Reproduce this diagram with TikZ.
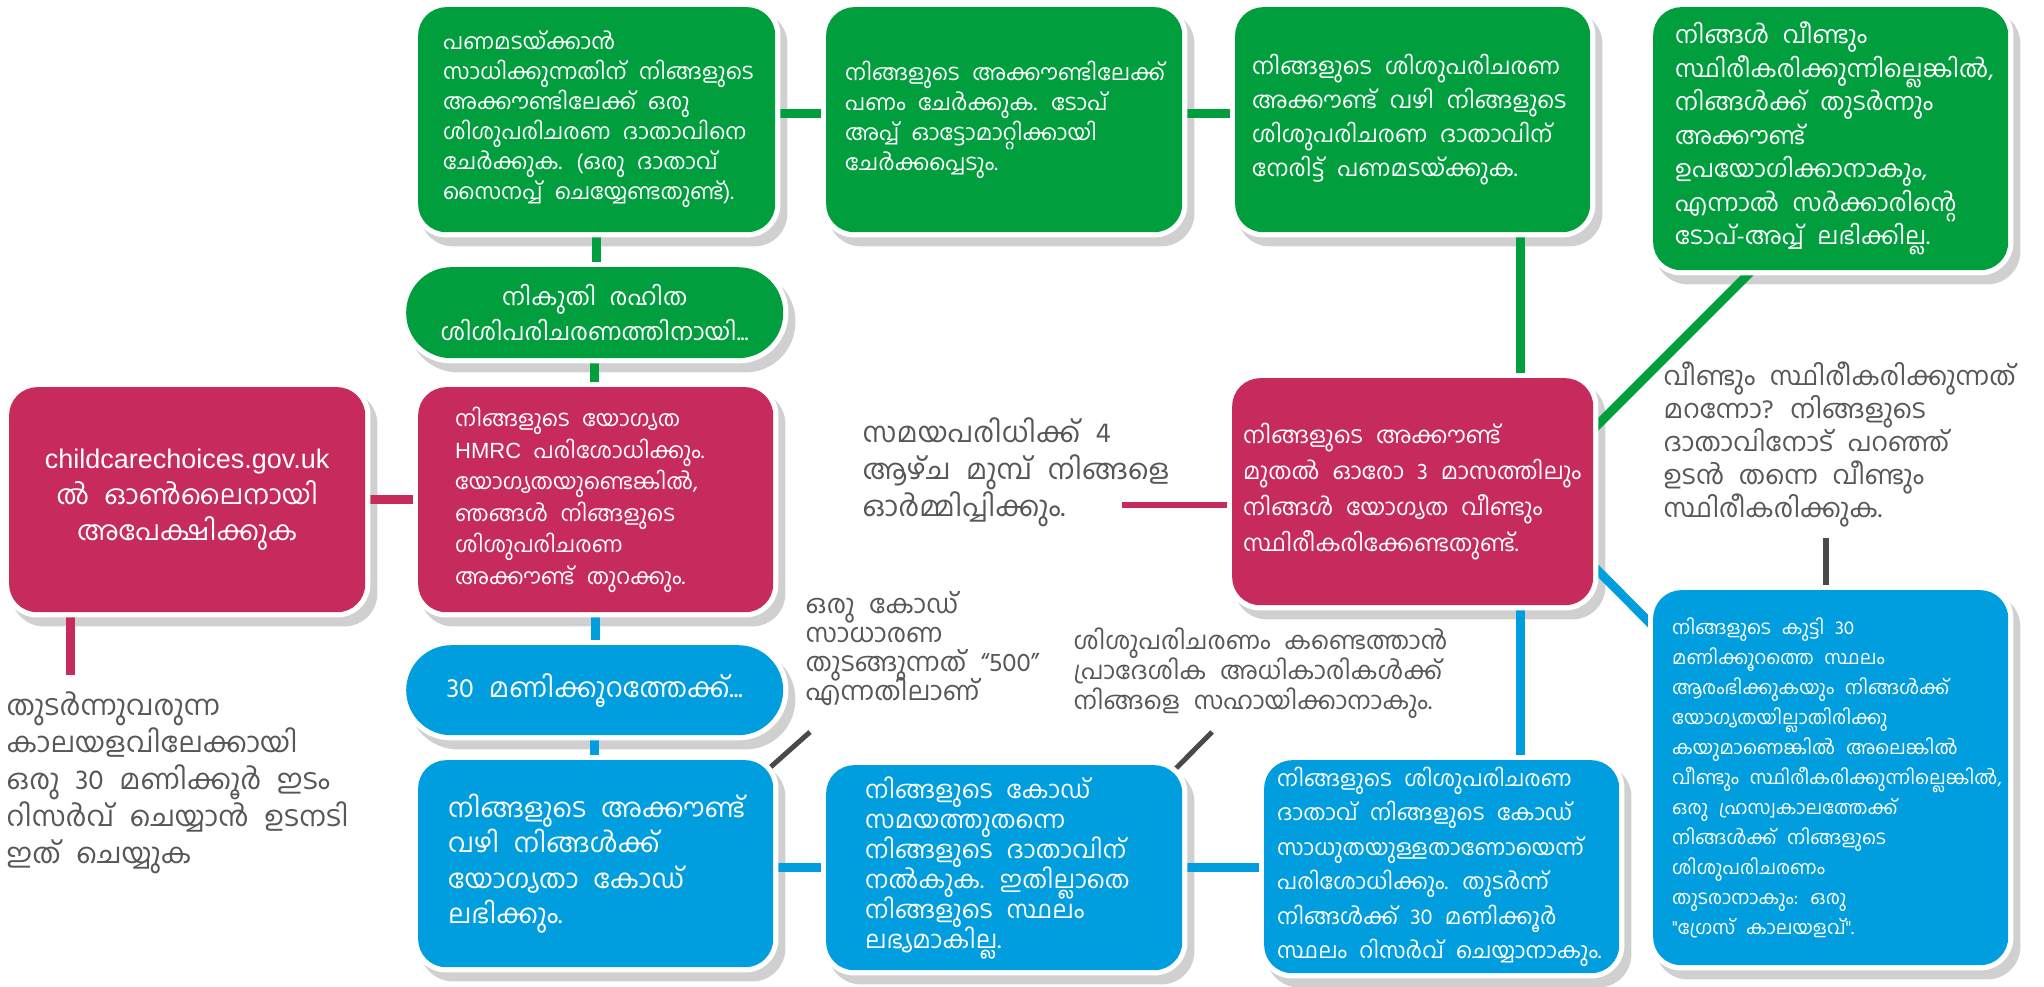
\documentclass[tikz,border=0pt]{standalone}
\usepackage{fontspec}
\newfontfamily\ml[Script=Malayalam,WordSpace=2.3]{Hind Kochi}
\newfontfamily\lat{Liberation Sans}
\usetikzlibrary{calc}
\definecolor{mgreen}{RGB}{0,158,61}
\definecolor{mpink}{RGB}{199,43,91}
\definecolor{mblue}{RGB}{0,157,223}
\definecolor{tgrey}{RGB}{87,87,87}
\definecolor{lgrey}{RGB}{74,74,74}
\definecolor{shadc}{RGB}{208,208,208}
\pgfdeclarelayer{shad}
\pgfdeclarelayer{conn}
\pgfdeclarelayer{marg}
\pgfsetlayers{shad,conn,marg,main}
% fixed-width block of explicit lines, left aligned, never re-wrapped
\newcommand\tx[2]{\makebox[#1][l]{\vbox{\hsize=1500pt\parindent=0pt\lineskiplimit=-100pt
  \rightskip=0pt plus 1fil\parfillskip=0pt\let\\\par #2\par}}}
\newcommand\cardback[2]{%
  \begin{pgfonlayer}{shad}
    \fill[shadc, rounded corners=#2+5] ($(#1.north west)+(2,4)$) rectangle ($(#1.south east)+(12,14)$);
  \end{pgfonlayer}
  \begin{pgfonlayer}{marg}
    \fill[white, rounded corners=#2+5] ($(#1.north west)+(-5,-5)$) rectangle ($(#1.south east)+(5,5)$);
  \end{pgfonlayer}}
\begin{document}
\begin{tikzpicture}[x=1pt,y=-1pt,
  card/.style={rounded corners=28pt, text=white, anchor=north west, inner ysep=0pt},
  gcard/.style={card, fill=mgreen},
  pcard/.style={card, fill=mpink},
  bcard/.style={card, fill=mblue},
  pill/.style={rounded corners=45pt, text=white, align=center, anchor=north west, inner sep=0pt},
  note/.style={text=tgrey, anchor=north west, inner sep=0pt},
  glink/.style={draw=mgreen, line width=9pt},
  plink/.style={draw=mpink, line width=9pt},
  blink/.style={draw=mblue, line width=9pt},
  greylink/.style={draw=lgrey, line width=5pt},
]
\useasboundingbox (0,0) rectangle (2044,987);

% top row (green)
\node[gcard, minimum width=357pt, minimum height=225pt, inner xsep=25pt,
  font=\ml\fontsize{22}{30}\selectfont] (b1) at (418,7)
 {\tx{307pt}{പണമടയ്ക്കാൻ\\സാധിക്കുന്നതിന് നിങ്ങളുടെ\\അക്കൗണ്ടിലേക്ക് ഒരു\\ശിശുപരിചരണ ദാതാവിനെ\\ചേർക്കുക. (ഒരു ദാതാവ്\\സൈനപ്പ് ചെയ്യേണ്ടതുണ്ട്).}};
\node[gcard, minimum width=356pt, minimum height=225pt, inner xsep=19pt,
  font=\ml\fontsize{22}{30}\selectfont] (b2) at (826,7)
 {\tx{318pt}{നിങ്ങളുടെ അക്കൗണ്ടിലേക്ക്\\പണം ചേർക്കുക. ടോപ്\\അപ്പ് ഓട്ടോമാറ്റിക്കായി\\ചേർക്കപ്പെടും.}};
\node[gcard, minimum width=355pt, minimum height=225pt, inner xsep=17pt,
  font=\ml\fontsize{23}{34}\selectfont] (b3) at (1235,7)
 {\tx{321pt}{നിങ്ങളുടെ ശിശുപരിചരണ\\അക്കൗണ്ട് വഴി നിങ്ങളുടെ\\ശിശുപരിചരണ ദാതാവിന്\\നേരിട്ട് പണമടയ്ക്കുക.}};
\node[gcard, minimum width=355pt, minimum height=263pt, inner xsep=22pt,
  font=\ml\fontsize{24}{33.5}\selectfont] (b4) at (1653,7)
 {\tx{311pt}{നിങ്ങൾ വീണ്ടും\\സ്ഥിരീകരിക്കുന്നില്ലെങ്കിൽ,\\നിങ്ങൾക്ക് തുടർന്നും\\അക്കൗണ്ട്\\ഉപയോഗിക്കാനാകും,\\എന്നാൽ സർക്കാരിന്റെ\\ടോപ്-അപ്പ് ലഭിക്കില്ല.}};

\node[pill, fill=mgreen, minimum width=377pt, minimum height=91pt,
  font=\ml\fontsize{24}{35}\selectfont] (gp) at (406,267)
 {നികുതി രഹിത\\ശിശിപരിചരണത്തിനായി...};

% middle row (pink)
\node[pcard, align=center, minimum width=356pt, minimum height=225pt, inner xsep=10pt,
  font=\ml\fontsize{27}{36}\selectfont] (ap) at (9,387)
 {{\lat childcarechoices.gov.uk}\\ൽ ഓൺലൈനായി\\അപേക്ഷിക്കുക};
\node[pcard, minimum width=355pt, minimum height=225pt, inner xsep=37pt,
  font=\ml\fontsize{22}{31.5}\selectfont] (hm) at (418,387)
 {\tx{281pt}{നിങ്ങളുടെ യോഗ്യത\\{\lat HMRC} പരിശോധിക്കും.\\യോഗ്യതയുണ്ടെങ്കിൽ,\\ഞങ്ങൾ നിങ്ങളുടെ\\ശിശുപരിചരണ\\അക്കൗണ്ട് തുറക്കും.}};
\node[pcard, minimum width=361pt, minimum height=227pt, inner xsep=11pt,
  font=\ml\fontsize{23}{36}\selectfont] (pr) at (1232,378)
 {\tx{339pt}{നിങ്ങളുടെ അക്കൗണ്ട്\\മുതൽ ഓരോ 3 മാസത്തിലും\\നിങ്ങൾ യോഗ്യത വീണ്ടും\\സ്ഥിരീകരിക്കേണ്ടതുണ്ട്.}};

% bottom row (blue)
\node[pill, fill=mblue, minimum width=377pt, minimum height=90pt,
  font=\ml\fontsize{27}{35}\selectfont] (bp) at (406,645)
 {30 മണിക്കൂറത്തേക്ക്...};
\node[bcard, minimum width=355pt, minimum height=207pt, inner xsep=30pt,
  font=\ml\fontsize{26.5}{35.5}\selectfont] (bb1) at (418,760)
 {\tx{295pt}{നിങ്ങളുടെ അക്കൗണ്ട്\\വഴി നിങ്ങൾക്ക്\\യോഗ്യതാ കോഡ്\\ലഭിക്കും.}};
\node[bcard, minimum width=356pt, minimum height=205pt, inner xsep=39pt,
  font=\ml\fontsize{24.5}{30}\selectfont] (bb2) at (826,765)
 {\tx{278pt}{നിങ്ങളുടെ കോഡ്\\സമയത്തുതന്നെ\\നിങ്ങളുടെ ദാതാവിന്\\നൽകുക. ഇതില്ലാതെ\\നിങ്ങളുടെ സ്ഥലം\\ലഭ്യമാകില്ല.}};
\node[bcard, minimum width=355pt, minimum height=213pt, inner xsep=13pt,
  font=\ml\fontsize{22}{34.5}\selectfont] (bb3) at (1264,760)
 {\tx{329pt}{നിങ്ങളുടെ ശിശുപരിചരണ\\ദാതാവ് നിങ്ങളുടെ കോഡ്\\സാധുതയുള്ളതാണോയെന്ന്\\പരിശോധിക്കും. തുടർന്ന്\\നിങ്ങൾക്ക് 30 മണിക്കൂർ\\സ്ഥലം റിസർവ് ചെയ്യാനാകും.}};
\node[bcard, minimum width=355pt, minimum height=375pt, inner xsep=19pt,
  font=\ml\fontsize{19}{30}\selectfont] (br) at (1653,590)
 {\tx{317pt}{നിങ്ങളുടെ കുട്ടി 30\\മണിക്കൂറത്തെ സ്ഥലം\\ആരംഭിക്കുകയും നിങ്ങൾക്ക്\\യോഗ്യതയില്ലാതിരിക്കു\\കയുമാണെങ്കിൽ അലെങ്കിൽ\\വീണ്ടും സ്ഥിരീകരിക്കുന്നില്ലെങ്കിൽ,\\ഒരു ഹ്രസ്വകാലത്തേക്ക്\\നിങ്ങൾക്ക് നിങ്ങളുടെ\\ശിശുപരിചരണം\\തുടരാനാകും: ഒരു\\"ഗ്രേസ് കാലയളവ്".}};

% grey notes
\node[note, font=\ml\fontsize{28}{37}\selectfont] (lt) at (6,691)
 {\tx{0pt}{തുടർന്നുവരുന്ന\\കാലയളവിലേക്കായി\\ഒരു 30 മണിക്കൂർ ഇടം\\റിസർവ് ചെയ്യാൻ ഉടനടി\\ഇത് ചെയ്യുക}};
\node[note, font=\ml\fontsize{28}{37}\selectfont] (rm) at (862,418)
 {\tx{0pt}{സമയപരിധിക്ക് 4\\ആഴ്ച മുമ്പ് നിങ്ങളെ\\ഓർമ്മിപ്പിക്കും.}};
\node[note, font=\ml\fontsize{26}{33}\selectfont] (fg) at (1663,362)
 {\tx{0pt}{വീണ്ടും സ്ഥിരീകരിക്കുന്നത്\\മറന്നോ? നിങ്ങളുടെ\\ദാതാവിനോട് പറഞ്ഞ്\\ഉടൻ തന്നെ വീണ്ടും\\സ്ഥിരീകരിക്കുക.}};
\node[note, font=\ml\fontsize{26}{29}\selectfont] (cd) at (805,591)
 {\tx{0pt}{ഒരു കോഡ്\\സാധാരണ\\തുടങ്ങുന്നത് “500”\\എന്നതിലാണ്}};
\node[note, font=\ml\fontsize{24.5}{30}\selectfont] (la) at (1073,628)
 {\tx{0pt}{ശിശുപരിചരണം കണ്ടെത്താൻ\\പ്രാദേശിക അധികാരികൾക്ക്\\നിങ്ങളെ സഹായിക്കാനാകും.}};

% shadows and white margins
\foreach \n in {b1,b2,b3,b4,ap,hm,pr,bb1,bb2,bb3,br} {\cardback{\n}{28}}
\foreach \n in {gp,bp} {\cardback{\n}{45}}

% connectors
\coordinate (vx) at (1520,0);
\coordinate (remend) at (1122,505);
\coordinate (apend) at (70,675);
\coordinate (fgend) at (1826,538);
\coordinate (cdend) at (810,732);
\coordinate (laend) at (1212,732);
\begin{pgfonlayer}{conn}
  \draw[glink] ([yshift=6.5pt]b1.east) -- ([yshift=6.5pt]b2.west);
  \draw[glink] ([yshift=6.5pt]b2.east) -- ([yshift=6.5pt]b3.west);
  \draw[glink] (b1.south) -- (b1.south |- gp.north);
  \draw[glink] (gp.south) -- (gp.south |- hm.north);
  \draw[blink] (hm.south) -- (hm.south |- bp.north);
  \draw[blink] (bp.south) -- (bp.south |- bb1.north);
  \draw[plink] (ap.east) -- (hm.west);
  \draw[plink] (apend |- ap.south) -- (apend);
  \draw[blink] (bb1.east |- bb2.center) -- (bb2.center);
  \draw[blink] (bb2.center) -- (bb2.center -| bb3.west);
  \draw[glink] (vx |- b3.south) -- (vx |- pr.north);
  \draw[blink] (vx |- bb3.north) -- (vx |- pr.south);
  \draw[glink] ($(pr.east)+(-30,-32.5)$) -- ($(b4.south west)+(104,-5)$);
  \draw[blink] ($(pr.east)+(-13,61.5)$) -- ($(br.north west)+(27,63)$);
  \draw[draw=mpink, line width=6pt] (remend) -- (remend -| pr.west);
  \draw[draw=lgrey, line width=6pt] (fgend) -- (fgend |- br.north);
  \draw[greylink] ($(bb1.north east)+(-5,9)$) -- (cdend);
  \draw[greylink] ($(bb2.north east)+(-10,7)$) -- (laend);
\end{pgfonlayer}
\end{tikzpicture}
\end{document}
